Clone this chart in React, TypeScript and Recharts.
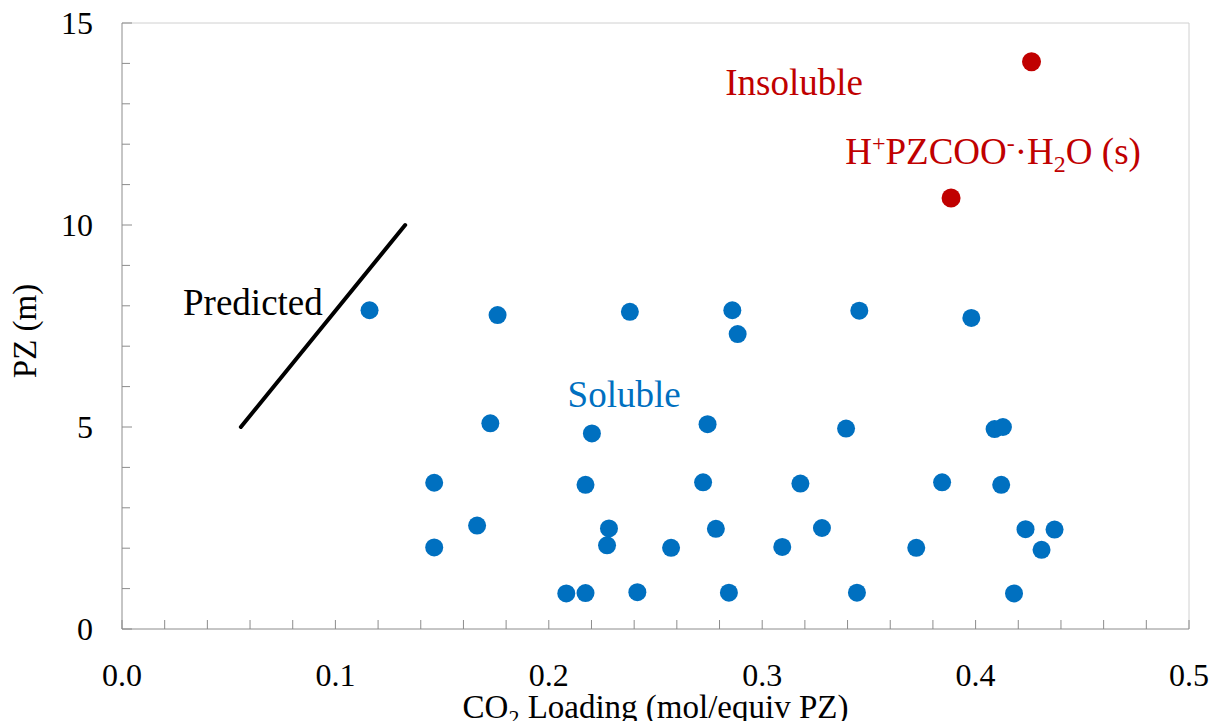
import { ScatterChart, Scatter, XAxis, YAxis, ReferenceLine, Label } from "recharts";

// soluble points (blue)
const solubleLoading = [
  0.116, 0.176, 0.238, 0.286, 0.2885, 0.3455, 0.398,
  0.1726, 0.2202, 0.2744, 0.3393, 0.4089, 0.4128,
  0.1463, 0.2172, 0.2723, 0.3179, 0.3843, 0.412,
  0.1664, 0.2282, 0.2783, 0.328, 0.4234, 0.437,
  0.1463, 0.2273, 0.2573, 0.3094, 0.3722, 0.4309,
  0.2082, 0.2172, 0.2415, 0.2844, 0.3444, 0.418,
];
const solublePZ = [
  7.89, 7.77, 7.85, 7.89, 7.3, 7.88, 7.7,
  5.09, 4.84, 5.07, 4.96, 4.95, 5.0,
  3.62, 3.57, 3.63, 3.6, 3.63, 3.57,
  2.56, 2.49, 2.48, 2.5, 2.47, 2.46,
  2.02, 2.07, 2.01, 2.03, 2.01, 1.96,
  0.88, 0.89, 0.91, 0.9, 0.9, 0.88,
];

// insoluble points (red)
const insolubleLoading = [0.4262, 0.3885];
const insolublePZ = [14.04, 10.67];

// predicted line
const predictedLoading = [0.0557, 0.1327];
const predictedPZ = [5.0, 10.0];

// text annotations (left edge, baseline)
const noteNames = ["Insoluble", "Chem", "Predicted", "Soluble"];
const noteLoading = [0.2827, 0.3389, 0.0286, 0.2088];
const notePZ = [13.22, 11.51, 7.77, 5.5];

const xMajorTicks = [0, 0.1, 0.2, 0.3, 0.4, 0.5];
const xMinorTicks = [
  0.02, 0.04, 0.06, 0.08, 0.12, 0.14, 0.16, 0.18, 0.22, 0.24, 0.26, 0.28,
  0.32, 0.34, 0.36, 0.38, 0.42, 0.44, 0.46, 0.48,
];
const yMajorTicks = [0, 5, 10, 15];
const yMinorTicks = [1, 2, 3, 4, 6, 7, 8, 9, 11, 12, 13, 14];

const BLUE = "#0070C0";
const RED = "#C00000";
const AXIS = "#8c8c8c";
const FONT = '"Liberation Serif", "Times New Roman", serif';

const soluble = solubleLoading.map((x, i) => ({ x, y: solublePZ[i] }));
const insoluble = insolubleLoading.map((x, i) => ({ x, y: insolublePZ[i] }));
const predicted = predictedLoading.map((x, i) => ({ x, y: predictedPZ[i] }));
const notes = noteNames.map((name, i) => ({ name, x: noteLoading[i], y: notePZ[i] }));

const XTick = (props: any) => {
  const { x, y, payload } = props;
  const v = payload.value;
  const major = xMajorTicks.includes(v);
  return (
    <g>
      <line x1={x} x2={x} y1={y} y2={y - 9} stroke={AXIS} />
      {major && (
        <text x={x} y={y + 57} textAnchor="middle" fontSize={32} fill="#000" fontFamily={FONT}>
          {v.toFixed(1)}
        </text>
      )}
    </g>
  );
};

const YTick = (props: any) => {
  const { x, y, payload } = props;
  const v = payload.value;
  const major = yMajorTicks.includes(v);
  return (
    <g>
      <line x1={x} x2={x + (major ? 10 : 8)} y1={y} y2={y} stroke={AXIS} />
      {major && (
        <text x={x - 29} y={y + 11} textAnchor="end" fontSize={32} fill="#000" fontFamily={FONT}>
          {v}
        </text>
      )}
    </g>
  );
};

const Note = (props: any) => {
  const { cx, cy, payload } = props;
  const common = { x: cx, y: cy, fontSize: 37, fontFamily: FONT };
  if (payload.name === "Chem") {
    return (
      <text {...common} fill={RED}>
        H<tspan fontSize={24} dy={-13}>+</tspan>
        <tspan dy={13}>PZCOO</tspan>
        <tspan fontSize={24} dy={-13}>-</tspan>
        <tspan dy={13}>·H</tspan>
        <tspan fontSize={24} dy={8}>2</tspan>
        <tspan dy={-8}>O (s)</tspan>
      </text>
    );
  }
  const fill = payload.name === "Insoluble" ? RED : payload.name === "Soluble" ? BLUE : "#000";
  return (
    <text {...common} fill={fill}>
      {payload.name}
    </text>
  );
};

const XTitle = (props: any) => {
  const vb = props.viewBox || { x: 122, y: 629, width: 1067, height: 92 };
  return (
    <text x={vb.x + vb.width / 2} y={vb.y + 89} textAnchor="middle" fontSize={33} fill="#000" fontFamily={FONT}>
      CO<tspan fontSize={22} dy={7}>2</tspan>
      <tspan dy={-7}> Loading (mol/equiv PZ)</tspan>
    </text>
  );
};

const YTitle = (props: any) => {
  const vb = props.viewBox || { x: 0, y: 23, width: 122, height: 606 };
  const cy = vb.y + vb.height / 2 + 5;
  return (
    <text
      x={36}
      y={cy}
      transform={`rotate(-90 36 ${cy})`}
      textAnchor="middle"
      fontSize={33}
      fill="#000"
      fontFamily={FONT}
    >
      PZ (m)
    </text>
  );
};

export default function App() {
  return (
    <div style={{ position: "absolute", left: 0, top: 0, background: "#fff" }}>
      <ScatterChart width={1209} height={721} margin={{ top: 23, right: 20, bottom: 0, left: 0 }}>
        <XAxis
          type="number"
          dataKey="x"
          domain={[0, 0.5]}
          ticks={[...xMajorTicks, ...xMinorTicks].sort((a, b) => a - b)}
          interval={0}
          tick={<XTick />}
          tickLine={false}
          tickSize={0}
          tickMargin={0}
          height={92}
          axisLine={{ stroke: AXIS }}
        >
          <Label content={<XTitle />} />
        </XAxis>
        <YAxis
          type="number"
          dataKey="y"
          domain={[0, 15]}
          ticks={[...yMajorTicks, ...yMinorTicks].sort((a, b) => a - b)}
          interval={0}
          tick={<YTick />}
          tickLine={false}
          tickSize={0}
          tickMargin={0}
          width={122}
          axisLine={{ stroke: AXIS }}
        >
          <Label content={<YTitle />} />
        </YAxis>
        <ReferenceLine y={15} stroke="#d0d0d0" />
        <ReferenceLine x={0.5} stroke="#d0d0d0" />
        <Scatter
          data={predicted}
          isAnimationActive={false}
          line={{ stroke: "#000", strokeWidth: 4, strokeLinecap: "round" }}
          shape={() => <g />}
        />
        <Scatter
          data={soluble}
          isAnimationActive={false}
          shape={(p: any) => <circle cx={p.cx} cy={p.cy} r={9} fill={BLUE} />}
        />
        <Scatter
          data={insoluble}
          isAnimationActive={false}
          shape={(p: any) => <circle cx={p.cx} cy={p.cy} r={9.5} fill={RED} />}
        />
        <Scatter data={notes} isAnimationActive={false} shape={<Note />} />
      </ScatterChart>
    </div>
  );
}
